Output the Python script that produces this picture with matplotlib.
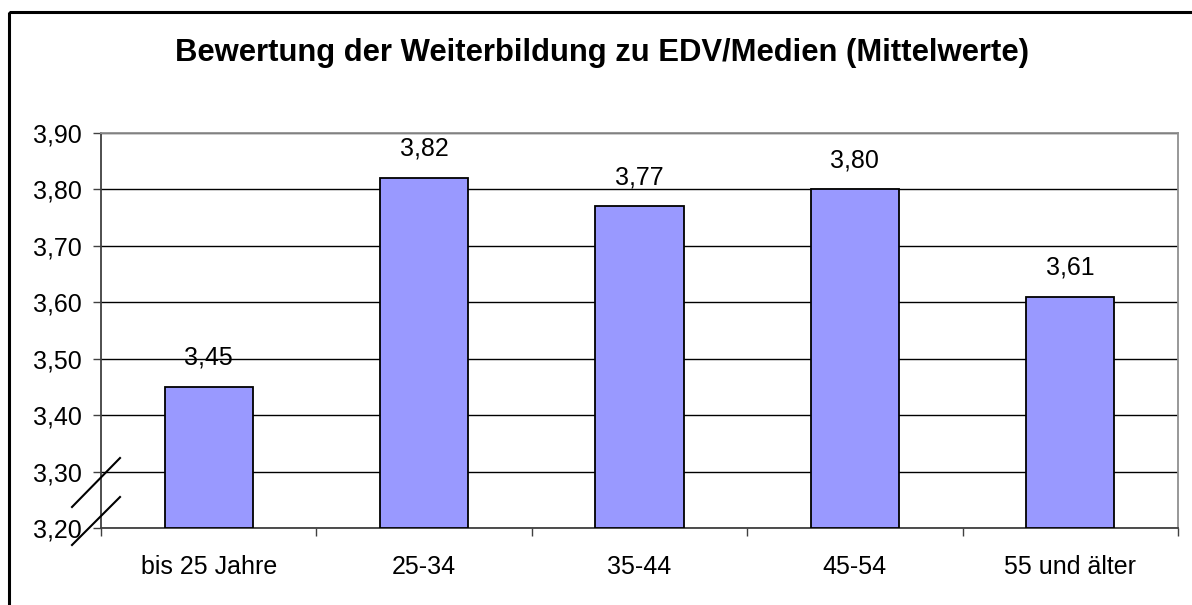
import matplotlib
matplotlib.use("Agg")
import matplotlib.pyplot as plt
from matplotlib.patches import Rectangle
from matplotlib.lines import Line2D

plt.rcParams['font.family'] = ['Liberation Sans', 'DejaVu Sans']

categories = ["bis 25 Jahre", "25-34", "35-44", "45-54", "55 und älter"]
values = [3.45, 3.82, 3.77, 3.80, 3.61]
value_labels = ["3,45", "3,82", "3,77", "3,80", "3,61"]
yticks = [3.20, 3.30, 3.40, 3.50, 3.60, 3.70, 3.80, 3.90]
ytick_labels = ["3,20", "3,30", "3,40", "3,50", "3,60", "3,70", "3,80", "3,90"]
title = "Bewertung der Weiterbildung zu EDV/Medien (Mittelwerte)"

W, H = 1192, 605
fig = plt.figure(figsize=(W / 100, H / 100), dpi=100)

# outer frame (right/bottom edges beyond canvas)
fig.add_artist(Rectangle((9 / W, 1 - 12 / H), 1.5, -1.5, transform=fig.transFigure,
                         fill=False, edgecolor='black', linewidth=2.2, clip_on=False))

left, right, top, bottom = 101, 1178, 133, 528
ax = fig.add_axes([left / W, 1 - bottom / H, (right - left) / W, (bottom - top) / H])

FS = 18
x = list(range(len(categories)))
ax.bar(x, [v - 3.20 for v in values], bottom=3.20, width=0.41, color='#9999FF',
       edgecolor='black', linewidth=1.3, zorder=3)
for xi, v, lab in zip(x, values, value_labels):
    ax.annotate(lab, (xi, v), xytext=(0, 21), textcoords='offset points',
                ha='center', va='center', fontsize=FS, zorder=4)

ax.set_xlim(-0.5, len(categories) - 0.5)
ax.set_ylim(3.20, 3.90)
ax.set_yticks(yticks)
ax.set_yticklabels(ytick_labels, fontsize=FS)
ax.yaxis.grid(True, color='black', linewidth=1.0, zorder=0)
ax.set_axisbelow(True)

ax.set_xticks(x)
ax.set_xticklabels(categories, fontsize=FS)
ax.tick_params(axis='x', length=0, pad=19.5)
ax.set_xticks([i + 0.5 for i in range(-1, len(categories))], minor=True)
ax.tick_params(axis='x', which='minor', length=5.8, color='#404040', width=1.0)
ax.tick_params(axis='y', length=5.8, color='#404040', width=1.0, pad=8)

for side in ['left', 'bottom']:
    ax.spines[side].set_color('#404040')
    ax.spines[side].set_linewidth(1.3)
for side in ['top', 'right']:
    ax.spines[side].set_color('#909090')
    ax.spines[side].set_linewidth(1.3)

# axis break marks
for (x0, y0, x1, y1) in [(72, 507, 120, 458), (72, 545, 120, 497)]:
    fig.add_artist(Line2D([x0 / W, x1 / W], [1 - y0 / H, 1 - y1 / H],
                          transform=fig.transFigure, color='black', linewidth=1.5))

fig.text(602 / W, 1 - 53 / H, title, ha='center', va='center',
         fontsize=22.3, fontweight='bold')

fig.savefig("out.png", dpi=100, facecolor='white')
